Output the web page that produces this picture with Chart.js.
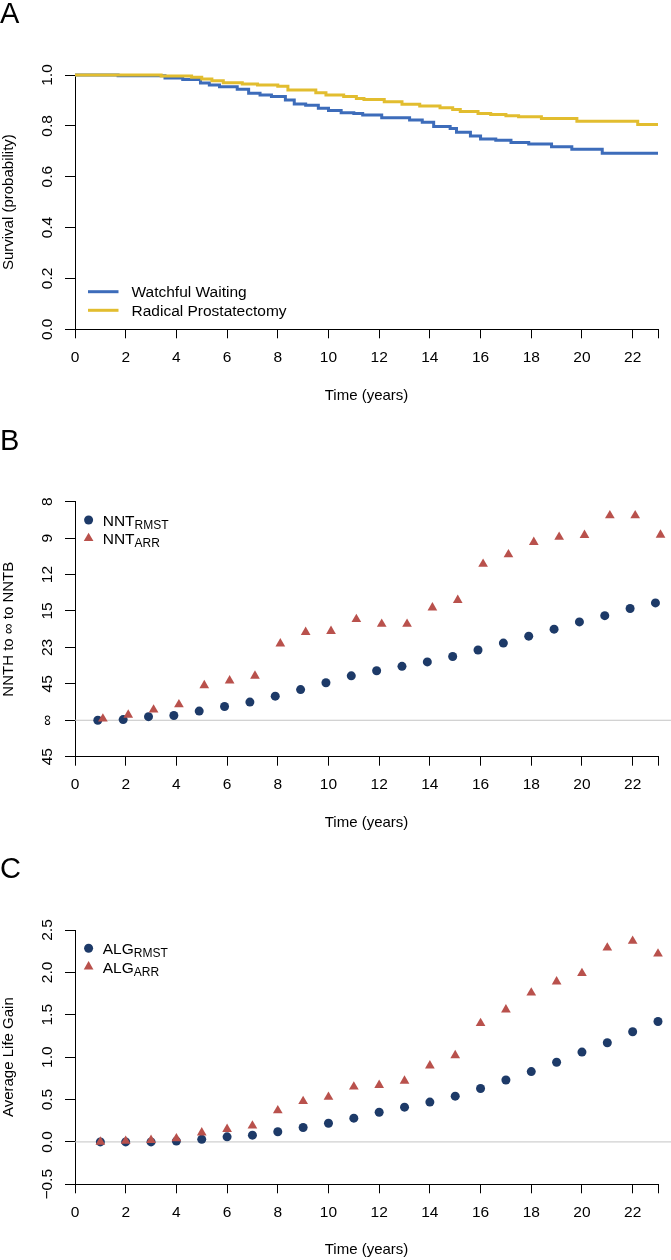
<!DOCTYPE html>
<html>
<head>
<meta charset="utf-8">
<script src="https://cdn.jsdelivr.net/npm/chart.js@4.4.1/dist/chart.umd.min.js"></script>
<style>
  body { margin: 0; background: #fff; }
  canvas { display: block; }
</style>
</head>
<body>
<canvas id="panelA" width="671" height="420"></canvas>
<canvas id="panelB" width="671" height="420"></canvas>
<canvas id="panelC" width="671" height="420"></canvas>
<script>
// ---- data ----
const xTickVals = [0, 2, 4, 6, 8, 10, 12, 14, 16, 18, 20, 22, 23];
const xTickLabels = ['0', '2', '4', '6', '8', '10', '12', '14', '16', '18', '20', '22', ''];

// panel A: Kaplan-Meier steps (time in years, survival probability)
const wwTimes = [0, 1.7, 3.55, 4.25, 4.95, 5.3, 5.7, 6.4, 6.85, 7.3, 7.75, 8.3, 8.65, 9.1, 9.6, 10.0, 10.5, 11.0, 11.35, 12.1, 13.2, 13.7, 14.15, 14.8, 15.05, 15.6, 16.0, 16.6, 17.2, 17.9, 18.8, 19.6, 20.8, 23];
const wwSurv = [1.0, 0.997, 0.988, 0.982, 0.969, 0.961, 0.954, 0.944, 0.928, 0.921, 0.915, 0.902, 0.886, 0.881, 0.869, 0.860, 0.852, 0.849, 0.843, 0.832, 0.823, 0.814, 0.797, 0.790, 0.775, 0.760, 0.748, 0.743, 0.735, 0.729, 0.718, 0.708, 0.692, 0.692];
const rpTimes = [0, 3.4, 4.6, 5.0, 5.4, 5.85, 6.6, 7.2, 8.0, 8.4, 9.5, 9.9, 10.6, 11.1, 11.4, 12.2, 12.9, 13.6, 14.4, 14.9, 15.2, 15.9, 16.4, 17.0, 17.5, 18.4, 19.8, 22.2, 23];
const rpSurv = [1.0, 0.996, 0.991, 0.984, 0.977, 0.970, 0.965, 0.961, 0.956, 0.941, 0.930, 0.921, 0.915, 0.908, 0.904, 0.895, 0.885, 0.878, 0.871, 0.864, 0.856, 0.849, 0.845, 0.840, 0.836, 0.829, 0.818, 0.805, 0.805];
const survTickVals = [0, 0.2, 0.4, 0.6, 0.8, 1.0];
const survTickLabels = ['0.0', '0.2', '0.4', '0.6', '0.8', '1.0'];

// panel B: 1/NNT (axis is linear in 1/NNT, labelled with NNT)
const years = [1, 2, 3, 4, 5, 6, 7, 8, 9, 10, 11, 12, 13, 14, 15, 16, 17, 18, 19, 20, 21, 22, 23];
const nntRmstInv = [0.0000, 0.0004, 0.0022, 0.0029, 0.0056, 0.0084, 0.0111, 0.0147, 0.0187, 0.0229, 0.0271, 0.0302, 0.0329, 0.0356, 0.0389, 0.0429, 0.0471, 0.0513, 0.0556, 0.0600, 0.0638, 0.0682, 0.0716];
const nntArrInv = [0.0009, 0.0033, 0.0064, 0.0096, 0.0213, 0.0242, 0.0271, 0.0467, 0.0538, 0.0544, 0.0616, 0.0587, 0.0587, 0.0687, 0.0733, 0.0953, 0.1011, 0.1087, 0.1118, 0.1129, 0.1249, 0.1249, 0.1131];
const nntTickVals = [-1, 0, 1, 2, 3, 4, 5, 6].map(k => k / 45);
const nntTickLabels = ['45', '\u221e', '45', '23', '15', '12', '9', '8'];

// panel C: average life gain (years)
const algRmst = [0.00, 0.00, 0.00, 0.01, 0.03, 0.06, 0.08, 0.12, 0.17, 0.22, 0.28, 0.35, 0.41, 0.47, 0.54, 0.63, 0.73, 0.83, 0.94, 1.06, 1.17, 1.30, 1.42];
const algArr = [0.00, 0.01, 0.02, 0.04, 0.11, 0.15, 0.19, 0.37, 0.48, 0.53, 0.65, 0.67, 0.72, 0.90, 1.02, 1.40, 1.56, 1.76, 1.89, 1.99, 2.29, 2.37, 2.22];
const algTickVals = [-0.5, 0, 0.5, 1.0, 1.5, 2.0, 2.5];
const algTickLabels = ['\u22120.5', '0.0', '0.5', '1.0', '1.5', '2.0', '2.5'];

const BLUE = '#3d6cba', GOLD = '#e2bd2f', NAVY = '#1d3a68', RED = '#b9514c';
const FONT = '"Liberation Sans", Arial, Helvetica, sans-serif';

Chart.defaults.font.family = FONT;
Chart.defaults.font.size = 15;
Chart.defaults.color = '#000';

// extra drawing: rotated y labels, legend, panel letter, reference line
const decor = {
  id: 'decor',
  beforeDatasetsDraw(chart, args, o) {
    if (o.refLine === undefined) return;
    const ctx = chart.ctx, y = chart.scales.y.getPixelForValue(o.refLine);
    ctx.save();
    ctx.strokeStyle = '#c4c4c4';
    ctx.lineWidth = 1;
    ctx.beginPath();
    ctx.moveTo(chart.chartArea.left, y);
    ctx.lineTo(chart.width, y);
    ctx.stroke();
    ctx.restore();
  },
  afterDraw(chart, args, o) {
    const ctx = chart.ctx, ys = chart.scales.y;
    ctx.save();
    ctx.fillStyle = '#000';
    ctx.font = '15.5px ' + FONT;
    ctx.textAlign = 'center';
    ctx.textBaseline = 'middle';
    o.yTicks.forEach((v, i) => {
      ctx.save();
      ctx.translate(47.5, ys.getPixelForValue(v));
      ctx.rotate(-Math.PI / 2);
      ctx.fillText(o.yLabels[i], 0, 0);
      ctx.restore();
    });
    ctx.font = '29px ' + FONT;
    ctx.textAlign = 'left';
    ctx.textBaseline = 'alphabetic';
    ctx.fillText(o.letter, 0, o.letterY);

    o.legend.forEach(it => {
      ctx.textBaseline = 'alphabetic';
      if (it.kind === 'line') {
        ctx.strokeStyle = it.color;
        ctx.lineWidth = 3;
        ctx.beginPath();
        ctx.moveTo(88, it.y);
        ctx.lineTo(118.5, it.y);
        ctx.stroke();
        ctx.font = '15.5px ' + FONT;
        ctx.fillText(it.text, 131.5, it.y + 5.5);
      } else {
        ctx.fillStyle = it.color;
        ctx.beginPath();
        if (it.kind === 'circle') {
          ctx.arc(88.6, it.y, 4.5, 0, Math.PI * 2);
        } else {
          const r = 5.6;
          ctx.moveTo(88.6, it.y - r);
          ctx.lineTo(88.6 + r * 0.866, it.y + r / 2);
          ctx.lineTo(88.6 - r * 0.866, it.y + r / 2);
          ctx.closePath();
        }
        ctx.fill();
        ctx.fillStyle = '#000';
        ctx.font = '15.5px ' + FONT;
        ctx.fillText(it.text, 102.7, it.y + 6);
        const w = ctx.measureText(it.text).width;
        ctx.font = '12px ' + FONT;
        ctx.fillText(it.sub, 102.7 + w, it.y + 9);
      }
    });
    ctx.restore();
  }
};

function xScale(bottom, titlePad) {
  return {
    type: 'linear', min: 0, max: 23,
    afterBuildTicks: s => { s.ticks = xTickVals.map(v => ({value: v})); },
    afterFit: s => { s.height = 420 - bottom; },
    ticks: {
      autoSkip: false, maxRotation: 0, padding: 10,
      font: { size: 15.5 },
      callback: (v, i) => xTickLabels[i]
    },
    grid: { drawOnChartArea: false, tickLength: 9, color: '#000' },
    border: { color: '#000', width: 1 },
    title: { display: true, text: 'Time (years)', padding: { top: 0, bottom: titlePad } }
  };
}

function yScale(min, max, tickVals, title) {
  return {
    type: 'linear', min: min, max: max,
    afterBuildTicks: s => { s.ticks = tickVals.map(v => ({value: v})); },
    afterFit: s => { s.width = 75; },
    ticks: { display: false },
    grid: { drawOnChartArea: false, tickLength: 10, color: '#000' },
    border: { color: '#000', width: 1 },
    title: { display: true, text: title, padding: { top: 0, bottom: 0 } }
  };
}

function makeChart(id, datasets, top, bottom, titlePad, y, deco) {
  return new Chart(document.getElementById(id), {
    type: 'scatter',
    data: { datasets: datasets },
    options: {
      responsive: false,
      animation: false,
      layout: { padding: { top: top, right: 13, left: 0, bottom: 0 } },
      scales: { x: xScale(bottom, titlePad), y: y },
      plugins: { legend: { display: false }, tooltip: { enabled: false }, decor: deco }
    },
    plugins: [decor]
  });
}

const pts = (xs, ys, dx) => xs.map((x, i) => ({x: x + dx, y: ys[i]}));

// A
makeChart('panelA', [
  { data: pts(rpTimes, rpSurv, 0), showLine: true, stepped: true, borderColor: GOLD, borderWidth: 3, pointRadius: 0, clip: false },
  { data: pts(wwTimes, wwSurv, 0), showLine: true, stepped: true, borderColor: BLUE, borderWidth: 3, pointRadius: 0, clip: false }
], 75, 329.3, 15.3, yScale(0, 1, survTickVals, 'Survival (probability)'), {
  letter: 'A', letterY: 23, yTicks: survTickVals, yLabels: survTickLabels,
  legend: [
    { kind: 'line', color: BLUE, y: 291.7, text: 'Watchful Waiting' },
    { kind: 'line', color: GOLD, y: 310.3, text: 'Radical Prostatectomy' }
  ]
});

// B
makeChart('panelB', [
  { data: pts(years, nntArrInv, 0.1), pointStyle: 'triangle', pointRadius: 5.6, backgroundColor: RED, borderWidth: 0, clip: false },
  { data: pts(years, nntRmstInv, -0.1), pointStyle: 'circle', pointRadius: 4.5, backgroundColor: NAVY, borderWidth: 0, clip: false }
], 81.7, 336.7, 7.7, yScale(-1 / 45, 6 / 45, nntTickVals, 'NNTH to \u221e to NNTB'), {
  letter: 'B', letterY: 30, yTicks: nntTickVals, yLabels: nntTickLabels, refLine: 0,
  legend: [
    { kind: 'circle', color: NAVY, y: 100, text: 'NNT', sub: 'RMST' },
    { kind: 'triangle', color: RED, y: 118.3, text: 'NNT', sub: 'ARR' }
  ]
});

// C
makeChart('panelC', [
  { data: pts(years, algArr, 0), pointStyle: 'triangle', pointRadius: 5.6, backgroundColor: RED, borderWidth: 0, clip: false },
  { data: pts(years, algRmst, 0), pointStyle: 'circle', pointRadius: 4.5, backgroundColor: NAVY, borderWidth: 0, clip: false }
], 90, 344.3, 1, yScale(-0.5, 2.5, algTickVals, 'Average Life Gain'), {
  letter: 'C', letterY: 38, yTicks: algTickVals, yLabels: algTickLabels, refLine: 0,
  legend: [
    { kind: 'circle', color: NAVY, y: 108.3, text: 'ALG', sub: 'RMST' },
    { kind: 'triangle', color: RED, y: 126.7, text: 'ALG', sub: 'ARR' }
  ]
});
</script>
</body>
</html>
